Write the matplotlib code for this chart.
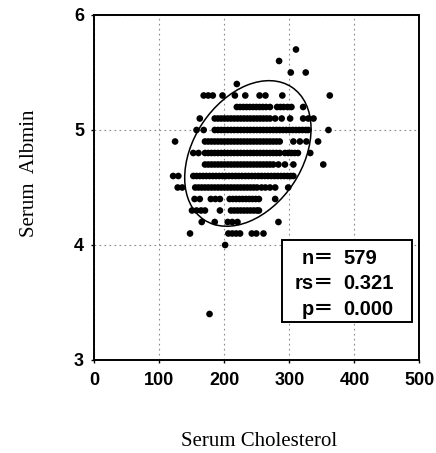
import matplotlib
matplotlib.use("Agg")
import matplotlib.pyplot as plt
from matplotlib.patches import Ellipse, Rectangle
from matplotlib.transforms import ScaledTranslation

albumin_levels = [5.7, 5.6, 5.5, 5.4, 5.3, 5.2, 5.1, 5.0, 4.9, 4.8,
                  4.7, 4.6, 4.5, 4.4, 4.3, 4.2, 4.1, 4.0, 3.4]
chol_57 = [310]
chol_56 = [284]
chol_55 = [302, 325]
chol_54 = [219]
chol_53 = [168, 175, 182, 197, 216, 232, 254, 263, 289, 362]
chol_52 = [219, 224, 229, 234, 239, 244, 249, 254, 259, 264, 270,
           281, 286, 291, 297, 303, 321]
chol_51 = [162, 185, 190, 195, 200, 205, 210, 215, 220, 225, 230, 235,
           240, 245, 250, 255, 260, 265, 270, 278, 288, 301, 321, 329, 337]
chol_50 = [157, 168, 185, 190, 195, 200, 205, 210, 215, 220, 225, 230,
           235, 240, 245, 250, 255, 260, 265, 270, 275, 280, 285, 290,
           295, 300, 305, 310, 315, 320, 325, 329, 360]
chol_49 = [124, 170, 175, 180, 185, 190, 195, 200, 205, 210, 215, 220,
           225, 230, 235, 240, 245, 250, 255, 260, 265, 270, 275, 280,
           285, 306, 316, 326, 344]
chol_48 = [152, 160, 170, 175, 180, 185, 190, 195, 200, 205, 210, 215,
           220, 225, 230, 235, 240, 245, 250, 255, 260, 265, 270, 275,
           280, 285, 293, 298, 303, 308, 313, 332]
chol_47 = [170, 175, 180, 185, 190, 195, 200, 205, 210, 215, 220, 225,
           230, 235, 240, 245, 250, 255, 260, 265, 270, 275, 283, 293,
           306, 352]
chol_46 = [121, 129, 152, 157, 162, 167, 172, 177, 182, 187, 192, 197,
           202, 207, 212, 217, 222, 227, 232, 237, 242, 247, 252, 257,
           262, 267, 272, 277, 282, 287, 292, 297, 302, 306]
chol_45 = [128, 135, 155, 160, 165, 170, 175, 180, 185, 190, 195, 200,
           205, 210, 215, 220, 225, 230, 235, 240, 245, 250, 257, 263,
           270, 278, 298]
chol_44 = [154, 162, 179, 186, 193, 208, 213, 218, 223, 228, 233, 238,
           243, 248, 253, 278]
chol_43 = [150, 157, 164, 170, 193, 210, 215, 220, 225, 230, 235, 240,
           245, 250, 253]
chol_42 = [165, 185, 205, 212, 220, 283]
chol_41 = [147, 206, 212, 218, 224, 242, 249, 260]
chol_40 = [201]
chol_34 = [177]
chol_rows = [chol_57, chol_56, chol_55, chol_54, chol_53, chol_52, chol_51,
             chol_50, chol_49, chol_48, chol_47, chol_46, chol_45, chol_44,
             chol_43, chol_42, chol_41, chol_40, chol_34]

x_ticks = [0, 100, 200, 300, 400, 500]
y_ticks = [3, 4, 5, 6]
stat_labels = ["n\uff1d", "rs\uff1d", "p\uff1d"]
stat_values = ["579", "0.321", "0.000"]

# ellipse (centre in data units, size in inches, tilt in degrees)
ell_center = (236, 4.796)
ell_width, ell_height, ell_angle = 1.59, 1.09, 56.5

fig = plt.figure(figsize=(4.36, 4.53), dpi=100)
ax = fig.add_axes([0.2167, 0.2053, 0.7454, 0.7616])

for level, chol in zip(albumin_levels, chol_rows):
    ax.scatter(chol, [level] * len(chol), s=23, color="black",
               edgecolors="none", zorder=3)

trans = fig.dpi_scale_trans + ScaledTranslation(ell_center[0], ell_center[1], ax.transData)
ax.add_patch(Ellipse((0, 0), ell_width, ell_height, angle=ell_angle,
                     transform=trans, fill=False, edgecolor="black",
                     linewidth=1.1, zorder=4))

ax.set_xlim(0, 500)
ax.set_ylim(3, 6)
ax.set_xticks(x_ticks)
ax.set_yticks(y_ticks)
ax.grid(True, color="#8a8a8a", linestyle=(0, (1.5, 3)), linewidth=0.8)
ax.set_axisbelow(True)
for sp in ax.spines.values():
    sp.set_linewidth(1.4)
ax.tick_params(direction="out", length=2.5, width=1, pad=5)
tick_font = dict(family="Liberation Sans", weight="bold", size=13)
ax.set_xticklabels([str(v) for v in x_ticks], **tick_font)
ax.set_yticklabels([str(v) for v in y_ticks], **tick_font)
ax.tick_params(axis="x", pad=6)

# statistics box
ax.add_patch(Rectangle((0.578, 0.110), 0.400, 0.237, transform=ax.transAxes,
                       facecolor="white", edgecolor="black", linewidth=1.4,
                       zorder=5))
box_font = dict(family=["Liberation Sans", "Noto Sans CJK JP"],
                weight="bold", size=14.5)
for lab, val, yb in zip(stat_labels, stat_values, [0.279, 0.205, 0.130]):
    ax.text(0.736, yb, lab, transform=ax.transAxes, ha="right",
            va="baseline", zorder=6, **box_font)
    ax.text(0.766, yb, val, transform=ax.transAxes, ha="left",
            va="baseline", zorder=6, **box_font)

label_font = dict(family="Liberation Serif", size=15)
fig.text(259 / 436, 1 - 446.5 / 453, "Serum Cholesterol", ha="center",
         va="baseline", **label_font)
fig.text(29 / 436, 1 - 173 / 453, "Serum  Albmin", rotation=90,
         ha="center", va="center", **label_font)

fig.savefig("out.png", dpi=100)
